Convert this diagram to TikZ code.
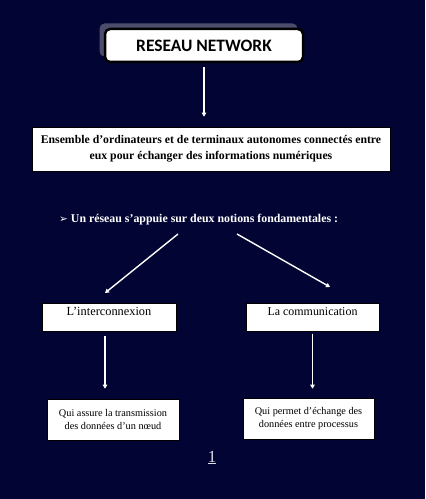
\documentclass[tikz,border=0pt]{standalone}
\usepackage{fontspec}
\setmainfont{Liberation Serif}
\newfontfamily\titlefont{Carlito}
\newfontfamily\symbfont{DejaVu Sans}
\usetikzlibrary{arrows.meta,shadows}
\definecolor{bgnavy}{HTML}{020533}
\definecolor{shadowgrey}{HTML}{4B4D6B}
\definecolor{pagegrey}{HTML}{DCDCE8}

\begin{document}
\begin{tikzpicture}[x=1bp,y=-1bp,
		box/.style={draw=black,fill=white,line width=0.6bp,inner sep=0pt},
		flow/.style={white,line width=1.4bp,-{Triangle[length=4bp,width=4.5bp]}}]
				\fill [bgnavy] (0,0) rectangle (425,499);
				\useasboundingbox (0,0) rectangle (425,499);
				
				\node [box, line width=2.5bp, rounded corners=5bp, minimum width=198bp, minimum height=33bp,
				       drop shadow={shadow xshift=-5.5bp, shadow yshift=5.5bp, fill=shadowgrey, opacity=1},
				       font=\titlefont\bfseries\fontsize{17.5}{20}\selectfont] (title) at (204,45.5) {RESEAU NETWORK};
				
				\node [box, minimum width=358bp, minimum height=44bp, align=center,
				       font=\bfseries\fontsize{11.8}{16}\selectfont] (def) at (211,149)
				       {Ensemble d’ordinateurs et de terminaux autonomes connectés entre\\eux pour échanger des informations numériques};
				
				\node [anchor=base west, text=white, inner sep=0pt, font=\bfseries\fontsize{11.9}{13}\selectfont] (notions) at (59,222)
				       {{\symbfont\fontsize{10.5}{11}\selectfont ➢}\hspace{3bp}Un réseau s’appuie sur deux notions fondamentales :};
				\coordinate (splitL) at (178,234);
				\coordinate (splitR) at (237,234);
				
				\node [box, anchor=north, minimum width=134bp, inner ysep=4bp, text height=8.5bp, text depth=11.5bp,
				       font=\fontsize{12.4}{14}\selectfont] (inter) at (109,303) {L’interconnexion};
				\node [box, anchor=north, minimum width=133bp, inner ysep=4bp, text height=8.5bp, text depth=11.5bp,
				       font=\fontsize{12}{14}\selectfont] (comm) at (312.5,303) {La communication};
				
				\node [box, minimum width=132bp, minimum height=41bp, align=center,
				       font=\fontsize{10.3}{13}\selectfont] (interdesc) at (113,419.5) {Qui assure la transmission\\des données d’un nœud};
				\node [box, minimum width=131bp, minimum height=41bp, align=center,
				       font=\fontsize{10.3}{13}\selectfont] (commdesc) at (308.5,418.5) {Qui permet d’échange des\\données entre processus};
				
				\draw [flow, shorten <=4bp, shorten >=10bp] (title.south) -- (title.south |- def.north);
				\draw [flow] (splitL) -- ([xshift=-4bp,yshift=10bp]inter.north);
				\draw [flow] (splitR) -- ([xshift=17.5bp,yshift=16bp]comm.north);
				\draw [flow, shorten <=4bp, shorten >=10bp] ([xshift=-4bp]inter.south) -- ([xshift=-4bp]inter.south |- interdesc.north);
				\draw [flow, shorten <=2bp, shorten >=9bp] (comm.south) -- (comm.south |- commdesc.north);
				
				\node [anchor=base, inner sep=0pt, text=pagegrey, font=\fontsize{17}{20}\selectfont] (page) at (212,462) {\underline{1}};
\end{tikzpicture}
\end{document}
